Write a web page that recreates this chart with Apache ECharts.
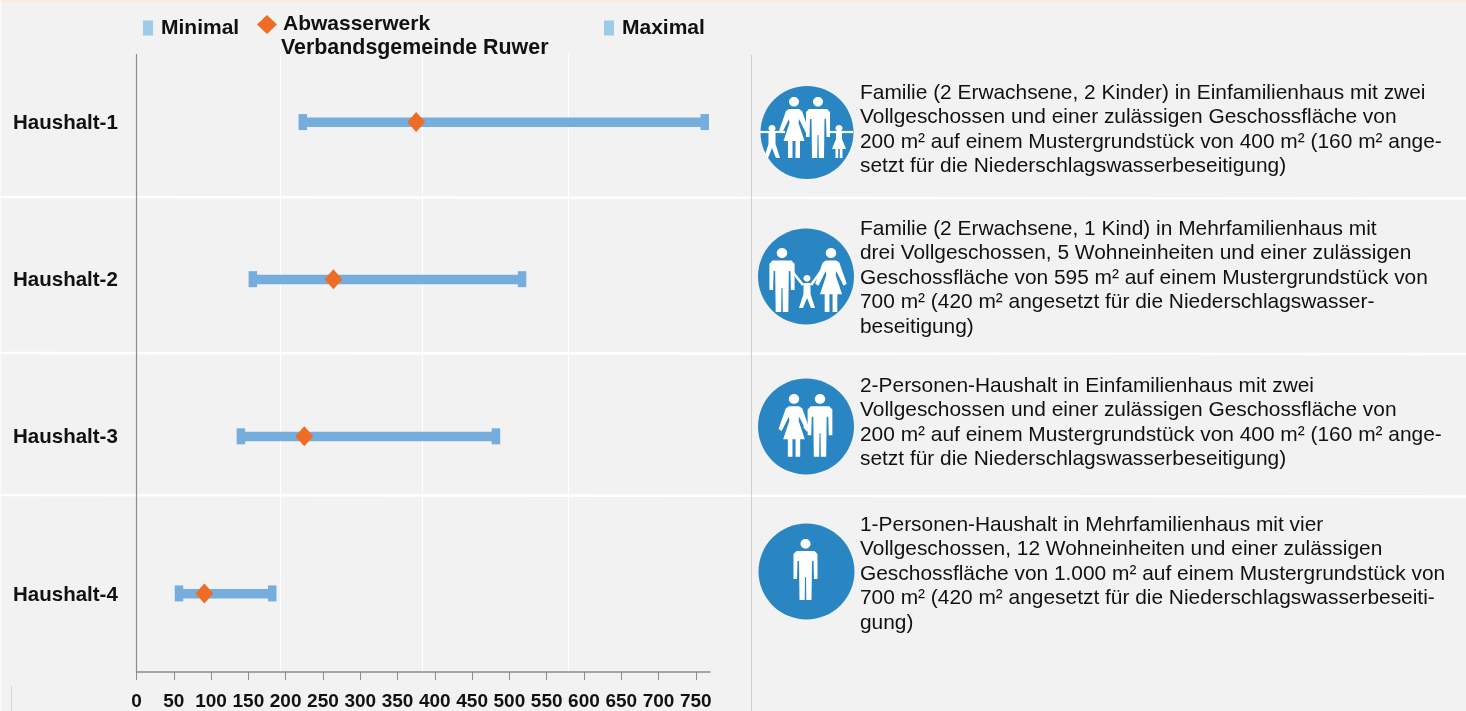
<!DOCTYPE html>
<html><head><meta charset="utf-8">
<style>html,body{margin:0;padding:0;background:#f2f2f2}#c{width:1466px;height:711px}</style>
<script src="https://cdn.jsdelivr.net/npm/echarts@6/dist/echarts.min.js"></script>
</head><body><div id="c"></div>
<script>
const categories = ['Haushalt-1','Haushalt-2','Haushalt-3','Haushalt-4'];
const minValues = [223,156,140,57];
const siteValues = [375,264,225,91];
const maxValues = [762,517,482,182];
const tickValues = [0,50,100,150,200,250,300,350,400,450,500,550,600,650,700,750];
const descriptions = [
 'Familie (2 Erwachsene, 2 Kinder) in Einfamilienhaus mit zwei\nVollgeschossen und einer zulässigen Geschossfläche von\n200 m² auf einem Mustergrundstück von 400 m² (160 m² ange-\nsetzt für die Niederschlagswasserbeseitigung)',
 'Familie (2 Erwachsene, 1 Kind) in Mehrfamilienhaus mit\ndrei Vollgeschossen, 5 Wohneinheiten und einer zulässigen\nGeschossfläche von 595 m² auf einem Mustergrundstück von\n700 m² (420 m² angesetzt für die Niederschlagswasser-\nbeseitigung)',
 '2-Personen-Haushalt in Einfamilienhaus mit zwei\nVollgeschossen und einer zulässigen Geschossfläche von\n200 m² auf einem Mustergrundstück von 400 m² (160 m² ange-\nsetzt für die Niederschlagswasserbeseitigung)',
 '1-Personen-Haushalt in Mehrfamilienhaus mit vier\nVollgeschossen, 12 Wohneinheiten und einer zulässigen\nGeschossfläche von 1.000 m² auf einem Mustergrundstück von\n700 m² (420 m² angesetzt für die Niederschlagswasserbeseiti-\ngung)'
];

const FONT = '"Liberation Sans"';
const NAME_MIN = 'Minimal', NAME_MAX = 'Maximal', NAME_SITE = 'Abwasserwerk Verbandsgemeinde Ruwer';
const BAR = '#75aedd', LEG = '#9ccbe9', ORANGE = '#ee6c25', CIRCLE = '#2a86c2';

const white = {fill:'#fff'};
function poly(cx, top, s, pts){
  return {type:'polygon', z:6, silent:true, style:white,
    shape:{points:pts.map(p=>[cx+p[0]*s, top+p[1]*s])}};
}
function head(cx, top, s, r){
  r = r||5;
  return {type:'ellipse', z:6, silent:true, style:white, shape:{cx:cx, cy:top+r*0.95*s, rx:r*s, ry:r*0.95*s}};
}
const manPts = [[-9,12],[9,12],[12,15],[12,40],[8.5,40],[8,22],[6.5,22],[6,61],[0.8,61],[0.5,38],[-0.5,38],[-0.8,61],[-6,61],[-6.5,22],[-8,22],[-8.5,40],[-12,40],[-12,15]];
const womanPts = [[-5,12],[5,12],[8,14],[15,34],[12,36],[5,22],[4.5,26],[10.5,44],[6,44],[6,61],[1.5,61],[1.5,44],[-1.5,44],[-1.5,61],[-6,61],[-6,44],[-10.5,44],[-4.5,26],[-5,22],[-12,36],[-15,34],[-8,14]];
const childPts = [[-3.5,8],[3.5,8],[3.5,19],[8,33],[4,33],[0,23],[-4,33],[-8,33],[-3.5,19]];
const girlPts = [[-3,8],[3,8],[3,14],[7,24],[3.5,24],[3.5,33],[0.8,33],[0.8,24],[-0.8,24],[-0.8,33],[-3.5,33],[-3.5,24],[-7,24],[-3,14]];
function man(cx, top, s){return [head(cx,top,s), poly(cx,top,s,manPts)];}
function woman(cx, top, s){return [head(cx,top,s), poly(cx,top,s,womanPts)];}
function child(cx, top, pts){return [head(cx,top,1,3.5), poly(cx,top,1,pts)];}
function link(pts, w){
  return {type:'polyline', z:6, silent:true, shape:{points:pts}, style:{stroke:'#fff', lineWidth:w||2.5, fill:null}};
}
function disc(cx, cy, r){
  return {type:'circle', z:5, silent:true, shape:{cx,cy,r}, style:{fill:CIRCLE}};
}
function hline(y1, y2){
  return {type:'line', z:1, silent:true, shape:{x1:0,y1:y1,x2:1466,y2:y2}, style:{stroke:'#fff', lineWidth:2.5}};
}
function vline(x, y1, y2, color, w){
  return {type:'line', z:1, silent:true, shape:{x1:x,y1:y1,x2:x,y2:y2}, style:{stroke:color, lineWidth:w||1}};
}
function desc(i, y){
  return {type:'text', z:6, silent:true, x:860, y:y,
    style:{text:descriptions[i], fontFamily:FONT, fontSize:20.9, fill:'#111', lineHeight:24.5, verticalAlign:'top'}};
}

const graphics = [
  {type:'rect', z:1, silent:true, shape:{x:0,y:0,width:1466,height:2}, style:{fill:'#fde9dd'}},
  {type:'rect', z:1, silent:true, shape:{x:0,y:0,width:1.5,height:711}, style:{fill:'#fafafa'}},
  hline(197,198.5), hline(353,354), hline(495,496.5),
  vline(280.5,54,671,'#fff'), vline(422.5,54,671,'#fff'), vline(568.5,54,671,'#fff'),
  vline(136.5,54,672,'#8c8c8c',1.2),
  vline(751.5,55,711,'#cfcfcf'),
  vline(11.5,686,711,'#d6d6d6'),
  {type:'text', z:6, silent:true, x:281, y:37.5,
    style:{text:'Verbandsgemeinde Ruwer', fontFamily:FONT, fontWeight:'bold', fontSize:21.4, fill:'#111', verticalAlign:'top'}},
  disc(807,132.5,46.5), disc(806,276.5,48), disc(806,426.5,48), disc(806.5,571.5,48),
  ...woman(794,97,1), ...man(818,97,1),
  ...child(772,125,childPts), ...child(839,125,girlPts),
  link([[760,132],[785,132]],2.2),
  link([[830,132],[853,132]],2.2),
  link([[803,121],[808,128]],2),
  ...man(782,248,1.05), ...woman(831,248,1.05),
  ...child(807,275,childPts),
  link([[791,270],[803,285]],2.6), link([[822,270],[811,285]],2.6),
  ...woman(794,394,1.03), ...man(820,394,1.03),
  link([[804,426],[808,431]],2.5),
  ...man(805.5,539,1)
];
descriptions.forEach((d,i)=>graphics.push(desc(i,[80.5,216.5,373.5,512.5][i])));

function legendOf(name, left, top, icon, color, w, h, pad, fmt){
  return {left, top, orient:'horizontal', padding:0, selectedMode:false,
    itemWidth:w, itemHeight:h, itemGap:0,
    data:[{name, icon, itemStyle:{color, opacity:1}}],
    textStyle:{fontFamily:FONT, fontWeight:'bold', fontSize:21, color:'#111', padding:pad},
    formatter:fmt||undefined};
}

const chart = echarts.init(document.getElementById('c'), null, {renderer:'canvas'});
chart.setOption({
  backgroundColor:'#f2f2f2',
  animation:false,
  textStyle:{fontFamily:FONT},
  graphic:{elements:graphics},
  legend:[
    legendOf(NAME_MIN,143,17.5,'rect',LEG,10,15,[2,0,0,3]),
    legendOf(NAME_SITE,257,14,'diamond',ORANGE,20,19,[0,0,4,1],()=>'Abwasserwerk'),
    legendOf(NAME_MAX,604,17.5,'rect',LEG,10,15,[2,0,0,3])
  ],
  grid:{left:136.5, right:756, top:43.5, bottom:39, containLabel:false},
  xAxis:{type:'value', min:0, max:769, interval:50,
    splitLine:{show:false},
    axisLine:{show:true,lineStyle:{color:'#8c8c8c',width:1.5}},
    axisTick:{show:true,length:8,lineStyle:{color:'#8c8c8c'},customValues:tickValues},
    axisLabel:{customValues:tickValues, hideOverlap:false, margin:20, fontFamily:FONT, fontWeight:'bold', fontSize:19, color:'#111'}
  },
  yAxis:{type:'category', data:categories, inverse:true,
    axisLine:{show:false}, axisTick:{show:false}, splitLine:{show:false},
    axisLabel:{align:'left', margin:123.5, formatter:v=>'{a|'+v+'}',
      rich:{a:{fontFamily:FONT, fontWeight:'bold', fontSize:20.5, color:'#111', padding:[3,0,0,0]}}}
  },
  series:[
    {type:'custom', name:'Spanne', silent:true, z:2,
      encode:{x:[0,1], y:2},
      data:categories.map((c,i)=>[minValues[i],maxValues[i],i]),
      renderItem:(p,api)=>{
        const a=api.coord([api.value(0),api.value(2)]), b=api.coord([api.value(1),api.value(2)]);
        return {type:'rect', shape:{x:a[0],y:a[1]-4.5,width:b[0]-a[0],height:9.5}, style:{fill:BAR}};
      }},
    {type:'scatter', name:NAME_MIN, z:3, symbol:'rect', symbolSize:[8.5,16], itemStyle:{color:BAR,opacity:1},
      data:categories.map((c,i)=>[minValues[i],c])},
    {type:'scatter', name:NAME_MAX, z:3, symbol:'rect', symbolSize:[8.5,16], itemStyle:{color:BAR,opacity:1},
      data:categories.map((c,i)=>[maxValues[i],c])},
    {type:'scatter', name:NAME_SITE, z:4, symbol:'diamond', symbolSize:[18,20], itemStyle:{color:ORANGE,opacity:1},
      data:categories.map((c,i)=>[siteValues[i],c])}
  ]
});
</script></body></html>
